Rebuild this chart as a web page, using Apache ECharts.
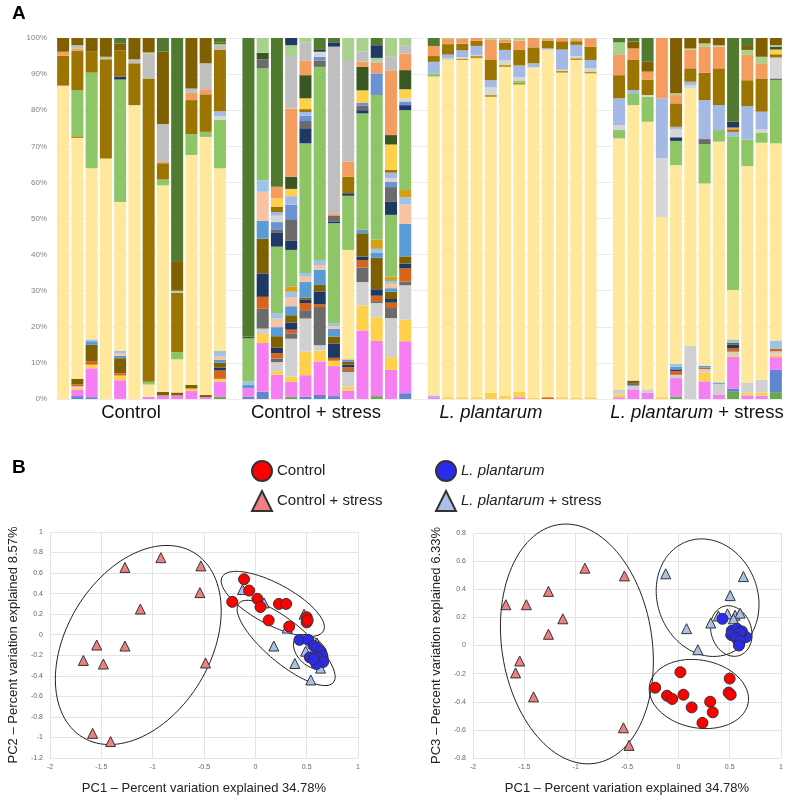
<!DOCTYPE html>
<html><head><meta charset="utf-8">
<script src="https://cdn.jsdelivr.net/npm/echarts@6/dist/echarts.min.js"></script>
<style>html,body{margin:0;padding:0;background:#fff}#c{width:787px;height:797px}</style>
</head><body><div id="c"></div>
<script>
// ---------- Panel A: relative abundance (%) per sample, bottom -> top ----------
// 48 samples: Control(12) | Control + stress(12) | L. plantarum(12) | L. plantarum + stress(12)
const groupNames = ['Control', 'Control + stress', 'L. plantarum', 'L. plantarum + stress'];
const taxonNames = ['t01','t02','t03','t04','t05','t06','t07','t08','t09','t10','t11','t12','t13','t14','t15',
                    't16','t17','t18','t19','t20','t21','t22','t23','t24','t25','t26','t27','t28','t29','t30'];
const taxonColors = ['#6AA84F','#5F86CF','#F57EF3','#FFD04A','#D0D0D0','#6B6B6B','#D8641C','#1F3864','#7F6000','#5B9BD5',
                     '#F8C3A3','#9DC3E6','#D4A017','#FFE89C','#B8960C','#8DC567','#1F3864','#6B6B6B','#6A93D6','#D6D6D6',
                     '#A5B9E5','#9C7400','#FFD04A','#385723','#F59D5F','#BFBFBF','#A9D18E','#7F5F00','#1F3864','#4F7A30'];

const v01 = [0,0,0,0,0,0,0,0,0,0,0,0.6, 0,0,0,0.6,0,0,0,0,0,0.8,0,0, 0,0,0,0,0,0,0,0,0,0,0,0, 0,0,0,0,0.7,0,0,0,2.0,0,0,1.9];
const v02 = [0,0.8,0.5,0,0,0,0,0,0,0,0,0, 0.6,2.0,0,0,0.6,1.1,0.8,0,0,0,0,1.6, 0,0,0,0,0,0,0,0,0,0,0,0, 0,0,0,0,0,0,0,0,0.9,0,0,6.2];
const v03 = [0,1.8,8.0,0,5.2,0,0.6,1.0,1.0,2.2,0.5,4.2, 2.4,13.5,6.7,4.1,6.0,9.3,8.3,2.3,19.0,15.3,8.1,14.4, 0.5,0,0,0,0,0,0.5,0,0,0,0,0, 0.5,2.7,1.8,0,5.1,0,4.9,1.1,8.8,1.0,0.9,3.5];
const v04 = [0,0.5,1.0,0,1.3,0,0,0,0,0.7,0,0.8, 0,2.5,1.0,1.5,6.5,3.0,1.5,1.1,6.9,6.5,3.5,6.0, 0,0.5,0.5,0.5,1.8,0.8,1.6,0.3,0,0.5,0.3,0.5, 0.8,0,0,0.5,0,0,2.5,0,0.5,0.7,0.9,0.7];
const v05 = [0,0.4,0,0,0,0,0,0,0,0,0,0, 0,1.5,2.5,10.5,9.2,1.5,0,4.1,6.5,4.0,10.8,9.5, 0,0,0,0,0,0,0,0,0,0,0,0, 1.2,1.0,0.9,0,0.9,14.7,0.9,3.1,0.9,2.9,3.5,0.9];
const v06 = [0,0,0,0,0,0,0,0,0,0,0,0, 0,5.5,1.0,1.5,2.3,10.6,0,0.5,4.0,0.5,2.8,1.0, 0,0,0,0,0,0,0,0,0,0,0,0, 0,0.7,0,0,0,0,0,0,0,0,0,0];
const v07 = [0,0.6,1.0,0,0.6,0,0,0,0,0,0,2.3, 0,3.3,1.5,1.0,2.0,0.8,0.8,0.8,2.0,1.5,1.5,3.7, 0,0,0,0,0,0,0,0,0.5,0,0,0, 0,0,0,0,1.0,0,0.4,0,0.9,0,0,0.7];
const v08 = [0,0,0,0,0,0,0,0,0,0,0,0.8, 0,6.5,1.5,2.0,1.0,3.5,4.0,0.7,1.0,1.8,1.0,1.3, 0,0,0,0,0,0,0,0,0,0,0,0, 0,0,0,0,0.5,0,0,0,1.1,0,0,0];
const v09 = [0,1.5,4.5,0,4.2,0,0,1.0,0.8,1.0,0.6,1.4, 0,9.6,3.2,2.0,0.5,1.8,1.9,0.8,6.5,8.7,2.0,2.0, 0,0,0,0,0,0,0,0,0,0,0,0, 0,0.7,0,0,0,0,0,0,0.5,0,0,0];
const v10 = [0,0,1.0,0,0.7,0,0,0,0,0,0,0.8, 0.9,5.0,2.5,2.5,4.3,4.2,2.1,0.5,1.0,1.5,1.0,9.0, 0,0,0,0,0,0,0,0,0,0,0,0, 0,0,0,0,0.8,0,0.5,0.4,0,0,0,0];
const v11 = [0,0,0,0,0.7,0,0,0,0,0,0,1.0, 0,8.0,2.4,2.5,1.5,1.3,0.8,0.5,0,0,1.2,5.4, 0,0,0,0,0,0,0,0,0,0,0,0, 0,0,0,0,0,0,0,0,0,0,0,0];
const v12 = [0,0,0.5,0,0.6,0,0,0,0,0,0,1.4, 0.9,3.2,1.5,1.5,1.0,1.4,0.8,0,0,1.0,0.8,2.0, 0.5,0,0,0,0,0,0,0,0,0,0,0, 0,0,0,0,0.7,0,0,0,0.9,0,0,2.3];
const v13 = [0,0,0,0,0,0,0,0,0,0,0,0, 0,0,0,1.5,0,0,0,0,0,2.5,1.2,2.0, 0,0,0,0,0,0,0,0,0,0,0,0, 0,0,0,0,0,0,0,0,0,0,0,0];
const v14 = [86.8,66.7,47.4,66.6,41.3,81.4,3.4,57.2,9.2,63.7,71.5,50.6, 0,0,0,0,0,0,0,30.0,0,0,0,0, 88.3,93.4,93.4,93.9,81.9,91.2,85.0,91.6,96.0,89.9,93.6,89.7, 69.7,76.3,74.1,49.9,55.1,71.3,50.5,66.7,13.7,59.9,65.7,54.6];
const v15 = [0,0.5,0,0,0,0,0,0,0,0,0,0, 0,0,0,0,0,0,0,0,0,0,0,0, 0,0,0.3,0.6,0.5,0.5,0.5,0,0,0.5,0.5,0.5, 0,0,0,0,0,0,0,0,0,0,0,0];
const v16 = [0,12.8,26.5,0,33.9,0,0.8,1.6,2.0,5.8,1.4,13.5, 12.0,31.0,18.4,10.1,35.9,53.5,27.7,15.0,32.2,40.1,17.1,22.1, 0.9,0,0,0,0,0,0.5,0,0,0,0,0, 2.3,3.3,6.9,0,6.7,0,10.9,3.2,42.6,7.4,2.8,17.5];
const v17 = [0,0,0,0,0.8,0,0,0,0,0,0,0, 0,0,3.8,2.5,4.2,0,0.5,0.7,0.9,0,3.6,1.4, 0,0,0,0,0,0,0,0,0,0,0,0, 0,0,0,0,1.0,0,0,0,0,0,0,0];
const v18 = [0,0,0,0,0,0,0,0,0,0,0,0, 0,2.5,1.0,6.0,2.0,1.8,1.5,0,1.2,0,4.1,0, 0,0,0,0,0,0,0,0,0,0,0,0, 0,0,0,0,0,0,1.4,0,0,0,0,0.5];
const v19 = [0,0,0,0,0,0,0,0,0,0,0,0, 0,0,2.0,4.0,1.5,1.0,0,0,0.8,6.0,1.5,1.0, 0,0,0,0,0,0,0,0,0,0,0,0, 0,0,0,0,0,0,0,0,0,0,0,0];
const v20 = [0,0,0,0,0,0,0,0,0,0,0,1.0, 0,0,1.8,0,0,1.4,0,0,0,0,1.0,0.9, 0,0.5,0.5,0.3,2.1,1.4,1.0,0,0.6,0.3,0.5,0.9, 1.4,0,0.5,16.3,2.3,1.0,0,0,0,0,0.9,5.8];
const v21 = [0,0,0,0,0,0,0,0,0,0,0,1.3, 0,0,1.0,2.4,1.0,0,0,0,0,0,1.5,0, 3.2,1.0,1.9,2.5,2.0,2.8,3.3,1.1,0,5.6,3.2,2.3, 7.4,0.9,0,16.6,0.6,0.9,10.8,6.9,1.2,9.2,4.9,0];
const v22 = [8.3,10.9,5.8,27.5,7.3,11.6,84.0,4.5,16.4,9.4,10.4,17.1, 0,0,1.5,0,0.8,0,0,4.6,0,0,0.8,0, 1.6,2.9,1.8,1.4,5.6,2.0,4.3,4.4,2.1,2.3,1.0,3.7, 6.4,8.3,4.3,0,6.5,3.7,7.6,10.2,0.7,7.2,9.2,0.9];
const v23 = [0,0,0,0,0,0,0,0,0,0,0,0, 0,0,2.3,2.0,3.0,0,0,0,3.5,0,7.0,2.5, 0,0,0,0,0,0,0,0,0,0,0,0, 0,0,0,0,0,0,0,0,0,0,0,1.3];
const v24 = [0,0,0,0,0,0,0,0,0,0,0,0, 0.5,1.8,0,3.4,6.4,0,0,0,6.5,0,2.6,5.3, 0,0,0,0,0,0,0,0,0,0,0,0, 0,0,0,0,0,0,0,0,0,0,0,0.8];
const v25 = [1.1,0.5,0,0,0,0,0,0.4,0,2.0,1.4,0, 0,0,3.2,18.9,4.0,0,0.7,4.1,1.5,3.0,18.0,4.6, 2.8,1.4,1.4,0.8,5.7,0.9,2.6,2.6,0.6,0.9,0.6,2.3, 5.6,3.2,2.2,16.7,2.3,5.2,7.2,6.0,0.5,7.0,4.2,0];
const v26 = [0,1.0,0,0.7,0,1.1,6.9,10.5,0.6,1.2,7.2,1.0, 0,0,0,14.5,5.0,0,46.2,28.2,2.7,0.5,3.7,2.3, 0,0,0,0,0,0,0,0,0,0,0,0, 0,0,0,0,0,0,0,0,0,0,0,0];
const v27 = [0,0,0,0,0,0,0.3,0,0,0,0,0.5, 0,4.1,0,3.0,1.3,0,0,6.1,3.8,0.8,5.2,2.0, 0,0.3,0.2,0,0.4,0.4,0.7,0,0.2,0,0.3,0.1, 3.5,0,0,0,0.5,0.3,0.9,0.4,0,1.4,1.8,0.4];
const v28 = [3.8,2.0,3.8,5.2,1.9,5.9,4.0,20.0,8.2,14.0,7.0,0.4, 0,0,0,0,0,0,0,0,0,0,0,0, 0,0,0,0,0,0,0,0,0,0,0,0, 0,1.9,2.7,0,15.3,2.9,1.5,2.0,0,1.1,5.2,2.0];
const v29 = [0,0,0,0,0,0,0,0,0,0,0,0, 0,0,0,2.0,0,0.5,1.2,0,0,3.5,0,0, 0,0,0,0,0,0,0,0,0,0,0,0, 0,0,0,0,0,0,0,0,1.6,0,0,0];
const v30 = [0,0,0,0,1.5,0,0,3.8,61.8,0,0,1.3, 82.7,0,41.2,0,0,3.3,1.2,0,0,2.0,0,0, 2.2,0,0,0,0,0,0,0,0,0,0,0, 1.2,1.0,6.6,0,0,0,0,0,23.2,2.2,0,0];
const taxonValues = [v01,v02,v03,v04,v05,v06,v07,v08,v09,v10,v11,v12,v13,v14,v15,v16,v17,v18,v19,v20,v21,v22,v23,v24,v25,v26,v27,v28,v29,v30];

// ---------- Panel B: PCA scores ----------
const pc12Control      = [[-0.11,0.54],[-0.225,0.32],[-0.06,0.43],[0.02,0.35],[0.05,0.27],[0.23,0.30],[0.30,0.30],[0.13,0.14],[0.33,0.08],[0.50,0.17],[0.50,0.12],[0.51,0.14]];
const pc12CtrlStress   = [[-1.27,0.655],[-0.92,0.75],[-0.53,0.67],[-0.54,0.41],[-1.12,0.25],[-1.545,-0.10],[-1.27,-0.11],[-1.675,-0.25],[-1.48,-0.285],[-0.485,-0.275],[-1.585,-0.96],[-1.41,-1.04]];
const pc12Lp           = [[0.43,-0.05],[0.515,-0.05],[0.565,-0.105],[0.60,-0.13],[0.635,-0.16],[0.65,-0.205],[0.53,-0.22],[0.58,-0.21],[0.61,-0.225],[0.66,-0.265],[0.595,-0.285],[0.565,-0.24]];
const pc12LpStress     = [[-0.125,0.44],[0.085,0.31],[0.475,0.20],[0.31,0.065],[0.18,-0.11],[0.49,-0.16],[0.385,-0.28],[0.54,-0.44],[0.635,-0.325],[0.585,-0.17],[0.62,-0.20],[0.60,-0.08]];
const pc13Control      = [[0.02,-0.19],[-0.225,-0.30],[-0.11,-0.357],[-0.06,-0.38],[0.05,-0.35],[0.13,-0.44],[0.31,-0.40],[0.335,-0.475],[0.235,-0.55],[0.50,-0.235],[0.49,-0.335],[0.51,-0.35]];
const pc13CtrlStress   = [[-1.68,0.29],[-1.48,0.29],[-1.265,0.385],[-1.125,0.19],[-1.265,0.08],[-0.91,0.55],[-0.525,0.495],[-1.545,-0.11],[-1.585,-0.195],[-1.41,-0.365],[-0.535,-0.585],[-0.48,-0.71]];
const pc13Lp           = [[0.43,0.19],[0.52,0.105],[0.57,0.12],[0.515,0.075],[0.60,0.06],[0.66,0.06],[0.595,0.015],[0.62,0.10],[0.60,0.09],[0.56,0.055],[0.60,0.035],[0.59,0.0]];
const pc13LpStress     = [[-0.123,0.51],[0.634,0.49],[0.505,0.355],[0.08,0.12],[0.316,0.16],[0.39,0.21],[0.478,0.225],[0.553,0.215],[0.602,0.23],[0.537,0.19],[0.19,-0.03],[0.63,0.08]];
// confidence ellipses: centre and two conjugate half-axis vectors (data units)
const ellipses12 = [[[-1.14,-0.10],[0.542,0.899],[-0.599,0.362]], [[0.17,0.30],[0.494,-0.263],[0.094,0.177]], [[0.30,-0.08],[0.46,-0.386],[0.129,0.153]], [[0.54,-0.165],[0.141,-0.141],[0.092,0.092]]];
const ellipses13 = [[[-0.988,0.011],[0.175,-0.849],[0.724,0.079]], [[0.285,0.34],[0.2,-0.4],[0.459,0.121]], [[0.516,0.103],[0.03,-0.18],[0.2,0.0]], [[0.2,-0.345],[0.483,-0.02],[-0.03,0.245]]];
const pcTitleX = 'PC1 \u2013 Percent variation explained 34.78%';
const pcTitleY2 = 'PC2 \u2013 Percent variation explained 8.57%';
const pcTitleY3 = 'PC3 \u2013 Percent variation explained 6.33%';

// ---------- build ----------
function withGaps(arr) {
  const out = [];
  for (let g = 0; g < 4; g++) { if (g > 0) out.push(null); for (let i = 0; i < 12; i++) out.push(arr[g * 12 + i]); }
  return out;
}
function ellipsePoints(e) {
  const pts = [];
  for (let k = 0; k <= 120; k++) {
    const t = k / 120 * Math.PI * 2, c = Math.cos(t), s = Math.sin(t);
    pts.push([e[0][0] + e[1][0] * c + e[2][0] * s, e[0][1] + e[1][1] * c + e[2][1] * s]);
  }
  return pts;
}
const FONT = 'Liberation Sans, Arial, sans-serif';
const series = [];
taxonValues.forEach((vals, i) => {
  series.push({ type: 'bar', name: taxonNames[i], stack: 'abund', xAxisIndex: 0, yAxisIndex: 0, barWidth: 12,
    data: withGaps(vals), itemStyle: { color: taxonColors[i] }, silent: true });
});
function ellSeries(list, idx) {
  list.forEach(e => series.push({ type: 'line', xAxisIndex: idx, yAxisIndex: idx, data: ellipsePoints(e), symbol: 'none',
    clip: false, smooth: false, silent: true, z: 2, lineStyle: { color: '#222', width: 1 } }));
}
ellSeries(ellipses12, 1);
ellSeries(ellipses13, 2);
const markerDefs = [
  ['Control + stress', 'triangle', 10, '#F08080', [pc12CtrlStress, pc13CtrlStress]],
  ['L. plantarum + stress', 'triangle', 10, '#A9C0E8', [pc12LpStress, pc13LpStress]],
  ['Control', 'circle', 11, '#FF0000', [pc12Control, pc13Control]],
  ['L. plantarum', 'circle', 11, '#2B2BEE', [pc12Lp, pc13Lp]]
];
markerDefs.forEach(m => {
  [1, 2].forEach(idx => series.push({ type: 'scatter', name: m[0], xAxisIndex: idx, yAxisIndex: idx, symbol: m[1], symbolSize: m[2],
    data: m[4][idx - 1], z: 4, itemStyle: { color: m[3], borderColor: '#333', borderWidth: 1, opacity: 1 } }));
});

const tickStyle = { fontSize: 7, color: '#666', fontFamily: FONT };
const gridLine = { show: true, lineStyle: { color: '#E4E4E4', width: 1 } };
function pcX(idx) {
  return { type: 'value', gridIndex: idx, min: -2, max: 1, interval: 0.5, axisLine: { show: false }, axisTick: { show: false },
    splitLine: gridLine, axisLabel: Object.assign({ margin: 6 }, tickStyle),
    name: pcTitleX, nameLocation: 'middle', nameGap: 24, nameTextStyle: { fontSize: 13, color: '#222', fontFamily: FONT } };
}
function pcY(idx, mn, mx, title) {
  return { type: 'value', gridIndex: idx, min: mn, max: mx, interval: 0.2, axisLine: { show: false }, axisTick: { show: false },
    splitLine: gridLine, axisLabel: Object.assign({ margin: 7 }, tickStyle),
    name: title, nameLocation: 'middle', nameRotate: 90, nameGap: 30, nameTextStyle: { fontSize: 13, color: '#222', fontFamily: FONT } };
}
const rich = { i: { fontStyle: 'italic', fontSize: 15, fontFamily: FONT, color: '#222' } };
const legendFmt = n => n.indexOf('L. plantarum') === 0 ? '{i|L. plantarum}' + n.slice(12) : n;
const GL = '18.5px ' + FONT;
const richG = { i: { fontStyle: 'italic', fontSize: 18.5, fontFamily: FONT, fill: '#111' } };

const option = {
  animation: false,
  backgroundColor: '#fff',
  grid: [
    { left: 56, top: 38, width: 727, height: 361 },
    { left: 50, top: 532, width: 308, height: 226 },
    { left: 473, top: 533, width: 308, height: 225 }
  ],
  xAxis: [
    { type: 'category', gridIndex: 0, data: withGaps(new Array(48).fill('')), axisLine: { show: false }, axisTick: { show: false }, axisLabel: { show: false } },
    pcX(1), pcX(2)
  ],
  yAxis: [
    { type: 'value', gridIndex: 0, min: 0, max: 100, interval: 10, axisLine: { show: false }, axisTick: { show: false },
      splitLine: { lineStyle: { color: '#EBEBEB' } }, axisLabel: { formatter: '{value}%', fontSize: 8, color: '#7F7F7F', margin: 9, fontFamily: FONT } },
    pcY(1, -1.2, 1, pcTitleY2), pcY(2, -0.8, 0.8, pcTitleY3)
  ],
  legend: [
    { left: 246, top: 455, orient: 'vertical', itemWidth: 20, itemHeight: 20, itemGap: 8, data: ['Control', 'Control + stress'],
      textStyle: { fontSize: 15, color: '#222', fontFamily: FONT }, selectedMode: false },
    { left: 430, top: 455, orient: 'vertical', itemWidth: 20, itemHeight: 20, itemGap: 8, data: ['L. plantarum', 'L. plantarum + stress'],
      formatter: legendFmt, textStyle: { fontSize: 15, color: '#222', fontFamily: FONT, rich: rich }, selectedMode: false }
  ],
  graphic: [
    { type: 'text', x: 12, y: 4, style: { text: 'A', font: 'bold 19px ' + FONT, fill: '#000' } },
    { type: 'text', x: 12, y: 458, style: { text: 'B', font: 'bold 19px ' + FONT, fill: '#000' } },
    { type: 'text', x: 131, y: 403, style: { text: groupNames[0], font: GL, fill: '#111', align: 'center' } },
    { type: 'text', x: 316, y: 403, style: { text: groupNames[1], font: GL, fill: '#111', align: 'center' } },
    { type: 'text', x: 491, y: 403, style: { text: '{i|' + groupNames[2] + '}', font: GL, fill: '#111', align: 'center', rich: richG } },
    { type: 'text', x: 697, y: 403, style: { text: '{i|L. plantarum}' + groupNames[3].slice(12), font: GL, fill: '#111', align: 'center', rich: richG } }
  ],
  series: series
};
const chart = echarts.init(document.getElementById('c'), null, { renderer: 'canvas' });
chart.setOption(option);
</script></body></html>
